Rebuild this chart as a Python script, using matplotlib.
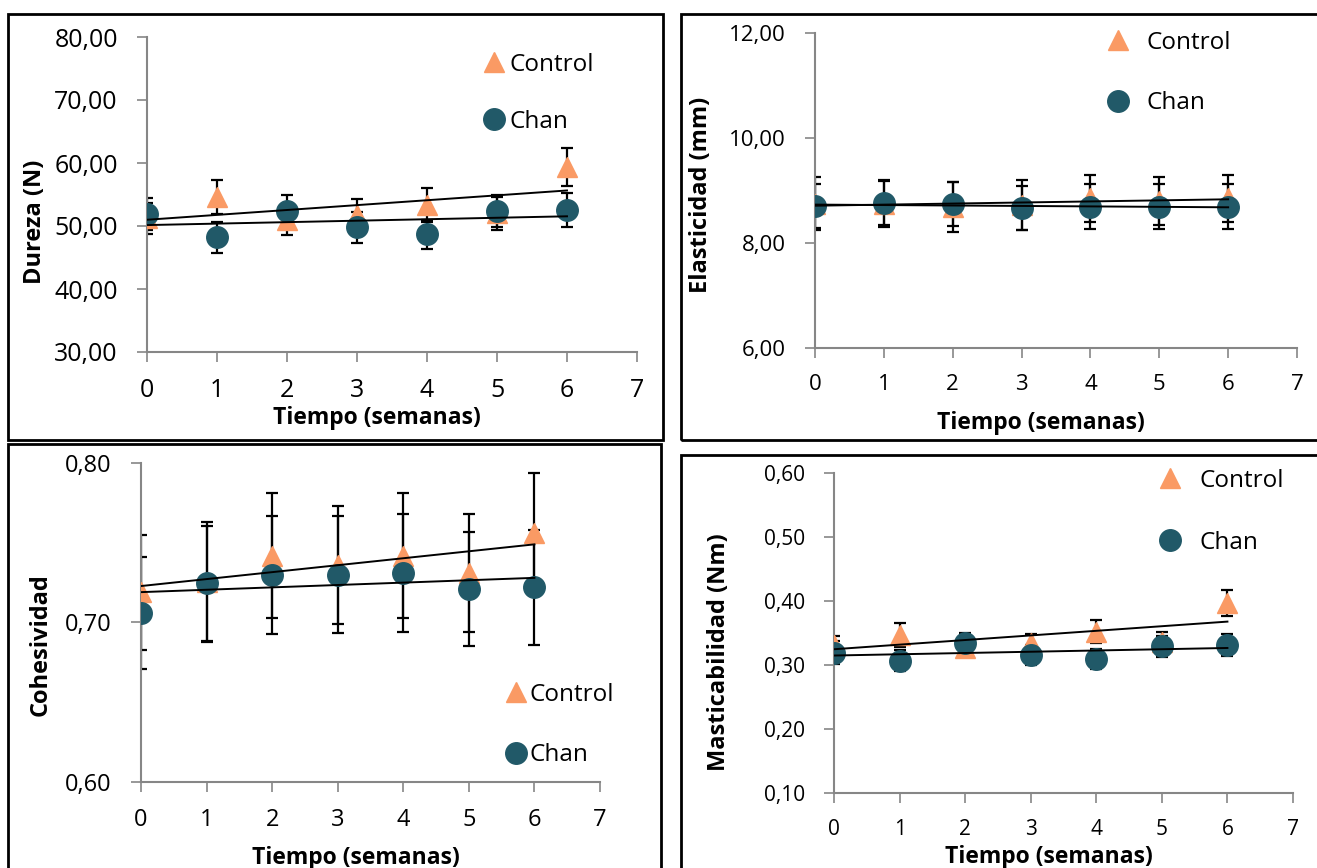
import numpy as np
import matplotlib
matplotlib.use("Agg")
import matplotlib.pyplot as plt
from matplotlib.patches import Rectangle
from matplotlib.ticker import FuncFormatter, MultipleLocator

plt.rcParams["font.family"] = ["Open Sans", "DejaVu Sans"]

W, H = 1317, 868

# Data
semanas = [0, 1, 2, 3, 4, 5, 6]

dureza_control = [51.2, 54.6, 51.0, 51.7, 53.3, 52.0, 59.4]
dureza_control_err = [2.5, 2.7, 2.4, 2.6, 2.7, 2.6, 3.0]
dureza_chan = [51.9, 48.2, 52.4, 49.8, 48.7, 52.4, 52.5]
dureza_chan_err = [2.5, 2.5, 2.5, 2.5, 2.3, 2.6, 2.7]

elast_control = [8.75, 8.75, 8.68, 8.72, 8.85, 8.80, 8.85]
elast_control_err = [0.50, 0.45, 0.48, 0.48, 0.45, 0.45, 0.45]
elast_chan = [8.70, 8.77, 8.74, 8.66, 8.69, 8.69, 8.69]
elast_chan_err = [0.42, 0.42, 0.42, 0.42, 0.43, 0.43, 0.43]

cohes_control = [0.719, 0.7255, 0.742, 0.736, 0.742, 0.731, 0.756]
cohes_control_err = [0.036, 0.0375, 0.039, 0.037, 0.039, 0.037, 0.038]
cohes_chan = [0.706, 0.7246, 0.730, 0.730, 0.731, 0.721, 0.722]
cohes_chan_err = [0.035, 0.036, 0.037, 0.0365, 0.037, 0.036, 0.036]

mast_control = [0.331, 0.347, 0.3265, 0.334, 0.352, 0.336, 0.397]
mast_control_err = [0.015, 0.019, 0.014, 0.014, 0.018, 0.016, 0.020]
mast_chan = [0.319, 0.307, 0.334, 0.316, 0.309, 0.329, 0.331]
mast_chan_err = [0.018, 0.016, 0.016, 0.016, 0.016, 0.016, 0.017]

c_control = "#FA9A64"
c_chan = "#215968"
c_axis = "#868686"

# panel layout in pixels: axes (left, top, right, bottom), frame, legend, label spots
panels = [
    dict(ax=(147, 37, 637, 352), frame=(8, 14, 663, 440), ylim=(30, 80), step=10,
         ylabel="Dureza (N)", ctrl=dureza_control, ctrl_err=dureza_control_err,
         chan=dureza_chan, chan_err=dureza_chan_err, tick_fs=18,
         leg=(484, 53), leg_pad=0.26, leg_sp=1.35, ylab=(47, 222), xlab_y=406),
    dict(ax=(815, 33, 1297, 348), frame=(681, 14, 1340, 440), ylim=(6, 12), step=2,
         ylabel="Elasticidad (mm)", ctrl=elast_control, ctrl_err=elast_control_err,
         chan=elast_chan, chan_err=elast_chan_err, tick_fs=16,
         leg=(1108, 31), leg_pad=0.79, leg_sp=1.5, ylab=(713, 195), xlab_y=411),
    dict(ax=(141, 463, 600, 782), frame=(8, 444, 661, 900), ylim=(0.6, 0.8), step=0.1,
         ylabel="Cohesividad", ctrl=cohes_control, ctrl_err=cohes_control_err,
         chan=cohes_chan, chan_err=cohes_chan_err, tick_fs=17,
         leg=(506, 683), leg_pad=0.18, leg_sp=1.5, ylab=(53, 645), xlab_y=846),
    dict(ax=(834, 473, 1293, 793), frame=(681, 455, 1340, 900), ylim=(0.1, 0.6), step=0.1,
         ylabel="Masticabilidad (Nm)", ctrl=mast_control, ctrl_err=mast_control_err,
         chan=mast_chan, chan_err=mast_chan_err, tick_fs=15,
         leg=(1160, 469), leg_pad=0.83, leg_sp=1.55, ylab=(731, 652), xlab_y=845),
]

fig = plt.figure(figsize=(W / 100, H / 100), dpi=100)
fig.patch.set_facecolor("white")

x = np.array(semanas)
for p in panels:
    l, t, r, b = p["ax"]
    ax = fig.add_axes([l / W, 1 - b / H, (r - l) / W, (b - t) / H])

    fl, ft, fr, fb = p["frame"]
    fig.patches.append(Rectangle((fl / W, 1 - fb / H), (fr - fl) / W, (fb - ft) / H,
                                 transform=fig.transFigure, fill=False,
                                 edgecolor="black", linewidth=2.0, zorder=0))

    # error bars
    ax.errorbar(x, p["ctrl"], yerr=p["ctrl_err"], fmt="none", ecolor="black",
                elinewidth=1.6, capsize=4.5, capthick=1.6, zorder=2)
    ax.errorbar(x, p["chan"], yerr=p["chan_err"], fmt="none", ecolor="black",
                elinewidth=1.6, capsize=4.5, capthick=1.6, zorder=2)

    # markers
    h1, = ax.plot(x, p["ctrl"], linestyle="none", marker="^", markersize=15,
                  color=c_control, label="Control", zorder=3)
    h2, = ax.plot(x, p["chan"], linestyle="none", marker="o", markersize=15.5,
                  color=c_chan, label="Chan", zorder=4)

    # linear trendlines
    for y in (p["ctrl"], p["chan"]):
        m, c0 = np.polyfit(x, y, 1)
        ax.plot([x[0], x[-1]], [c0 + m * x[0], c0 + m * x[-1]], color="black",
                linewidth=1.4, zorder=5)

    ax.set_xlim(0, 7)
    ax.set_ylim(*p["ylim"])
    ax.xaxis.set_major_locator(MultipleLocator(1))
    ax.yaxis.set_major_locator(MultipleLocator(p["step"]))
    ax.yaxis.set_major_formatter(FuncFormatter(lambda v, pos: f"{v:.2f}".replace(".", ",")))

    for s in ("top", "right"):
        ax.spines[s].set_visible(False)
    for s in ("left", "bottom"):
        ax.spines[s].set_color(c_axis)
        ax.spines[s].set_linewidth(1.5)
    ax.tick_params(axis="both", colors=c_axis, width=1.2, length=7,
                   labelcolor="black", labelsize=p["tick_fs"])
    ax.tick_params(axis="y", pad=14)
    ax.tick_params(axis="x", pad=12)
    ax.patch.set_alpha(0)

    ax.set_ylabel(p["ylabel"], fontsize=17, fontweight="bold")
    ax.set_xlabel("Tiempo (semanas)", fontsize=16.5, fontweight="bold")
    yx, yy = p["ylab"]
    ax.yaxis.set_label_coords((yx - l) / (r - l), (b - yy) / (b - t))
    ax.xaxis.set_label_coords(0.5 * (6.0 / 7.0) + 0.04, (b - p["xlab_y"]) / (b - t))
    ax.xaxis.label.set_va("top")

    lx, ly = p["leg"]
    ax.legend(handles=[h1, h2], loc="upper left", bbox_to_anchor=(lx / W, 1 - ly / H),
              bbox_transform=fig.transFigure, frameon=False, fontsize=17.5,
              handlelength=0.8, handletextpad=p["leg_pad"], labelspacing=p["leg_sp"],
              borderpad=0, borderaxespad=0)

fig.savefig("out.png", dpi=100)
